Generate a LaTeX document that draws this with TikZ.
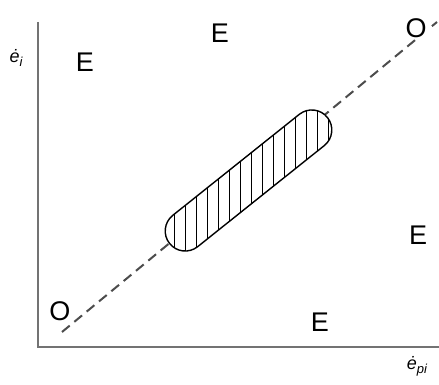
\documentclass[tikz,border=0pt]{standalone}
\usepackage{fontspec}
\setmainfont{Liberation Sans}
\begin{document}
\begin{tikzpicture}[x=1pt,y=1pt,
  axisline/.style={draw=black!55,line width=2.2pt},
  dashline/.style={draw=black!70,line width=2pt,dash pattern=on 10pt off 6pt},
  lbl/.style={font=\fontsize{27}{29}\selectfont,inner sep=1pt},
  olbl/.style={lbl,fill=white},
  mlbl/.style={font=\fontsize{18}{20}\selectfont\itshape,inner sep=1pt}]
\useasboundingbox (0,0) rectangle (439,385);
% axes
\coordinate (top) at (38,363);
\coordinate (orig) at (38,38);
\coordinate (right) at (439,38);
\draw[axisline] (top) -- (orig) -- (right);
% dashed diagonal
\coordinate (d1) at (62,53);
\coordinate (d2) at (437,363);
\draw[dashline] (d1) -- (d2);
% hatched region
\def\blob{(-81,-20) -- (81,-20) arc(-90:90:20) -- (-81,20) arc(90:270:20) -- cycle}
\begin{scope}
  \clip[shift={(248.5,204.5)},rotate=38.6] \blob;
  \fill[white,shift={(248.5,204.5)},rotate=38.6] \blob;
  \foreach \x in {152,163,...,350} \draw[line width=0.9pt] (\x,100) -- (\x,320);
\end{scope}
\draw[line width=1.4pt,shift={(248.5,204.5)},rotate=38.6] \blob;
% labels
\node[lbl] (e1) at (85,323) {E};
\node[lbl] (e2) at (220,352) {E};
\node[lbl] (e3) at (418,150) {E};
\node[lbl] (e4) at (320,63) {E};
\node[olbl] (o1) at (60,74) {O};
\node[olbl] (o2) at (416,357) {O};
\node[mlbl] (yl) at (16,327) {ė\raisebox{-0.4ex}{\fontsize{13}{14}\selectfont i}};
\node[mlbl] (xl) at (417,19) {ė\raisebox{-0.4ex}{\fontsize{13}{14}\selectfont pi}};
\end{tikzpicture}
\end{document}
